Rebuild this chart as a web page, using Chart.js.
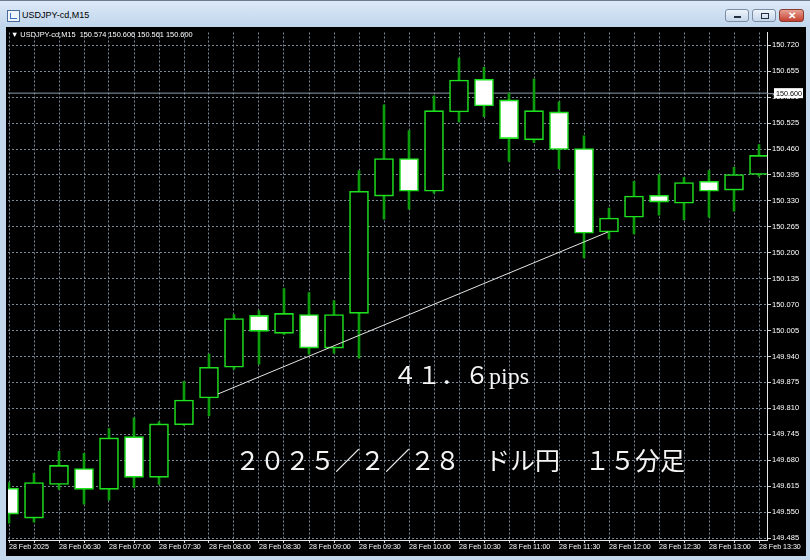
<!DOCTYPE html>
<html>
<head>
<meta charset="utf-8">
<script src="https://cdn.jsdelivr.net/npm/chart.js@4.4.1/dist/chart.umd.min.js"></script>
<style>
  body { margin: 0; width: 810px; height: 560px; overflow: hidden; background: #c3d7ed; font-family: "Liberation Sans", sans-serif; }
  #titlebar { position: absolute; left: 0; top: 0; width: 810px; height: 27px;
    background: linear-gradient(#dce9f7, #c0d5ec); border-top: 1px solid #6d7d90; box-sizing: border-box; }
  #title { position: absolute; left: 22px; top: 9px; font-size: 9px; color: #000; }
  #icon { position: absolute; left: 7px; top: 9px; width: 11px; height: 10px; border: 1px solid #4a6a9a; background: #eef4fb; }
  #icon:after { content: ""; position: absolute; left: 2px; top: 2px; width: 6px; height: 5px; border-left: 1px solid #3a6fc0; border-bottom: 1px solid #3a6fc0; }
  .btn { position: absolute; top: 8px; height: 13px; border: 1px solid #7c8ea6; border-radius: 3px; box-sizing: border-box;
    background: linear-gradient(#eef4fb, #c6d6ea); }
  #bmin { left: 725px; width: 24px; }
  #bmax { left: 752px; width: 24px; }
  #bclose { left: 779px; width: 25px; background: linear-gradient(#e8a093, #c4402f); border-color: #8a3a30; color: #fff; font-size: 10px; font-weight: bold; text-align: center; line-height: 11px; }
  #bmin:after { content: ""; position: absolute; left: 8px; top: 6px; width: 7px; height: 2px; background: #203040; }
  #bmax:after { content: ""; position: absolute; left: 8px; top: 3px; width: 6px; height: 4px; border: 1px solid #203040; }
  #wrap { position: absolute; left: 6px; top: 27px; width: 800px; height: 529px; background: #000; }
  #head { position: absolute; left: 11px; top: 30px; font-size: 7.4px; line-height: 10px; color: #fff; white-space: pre; }
  .note { position: absolute; color: #f4f4f4; white-space: pre; font-family: "Liberation Serif", "Noto Sans CJK JP", serif; }
  #pips { left: 393px; top: 363px; font-size: 24px; line-height: 26px; }
  #date { left: 235px; top: 448px; font-size: 25px; line-height: 27px; }
</style>
</head>
<body>
<div id="titlebar"><div id="icon"></div><div id="title">USDJPY-cd,M15</div>
  <div class="btn" id="bmin"></div><div class="btn" id="bmax"></div><div class="btn" id="bclose">✕</div></div>
<div id="wrap"><canvas id="c" width="800" height="529"></canvas></div>
<div id="head">▼ USDJPY-cd,M15  150.574 150.606 150.561 150.600</div>
<div class="note" id="pips">４１．６pips</div>
<div class="note" id="date">２０２５／２／２８　ドル円　１５分足</div>
<script>
// velas de 15 minutos, 06:00 a 13:30
const xLabels = ['28 Feb 2025', '', '28 Feb 06:30', '', '28 Feb 07:00', '', '28 Feb 07:30', '', '28 Feb 08:00', '',
  '28 Feb 08:30', '', '28 Feb 09:00', '', '28 Feb 09:30', '', '28 Feb 10:00', '', '28 Feb 10:30', '',
  '28 Feb 11:00', '', '28 Feb 11:30', '', '28 Feb 12:00', '', '28 Feb 12:30', '', '28 Feb 13:00', '', '28 Feb 13:30'];
const opens = [149.610, 149.535, 149.619, 149.659, 149.607, 149.739, 149.637, 149.769, 149.836, 149.913, 150.043,
  149.998, 150.045, 149.961, 150.048, 150.342, 150.436, 150.354, 150.553, 150.635, 150.583, 150.483, 150.553,
  150.461, 150.252, 150.289, 150.344, 150.324, 150.379, 150.357, 150.396];
const highs = [149.624, 149.647, 149.702, 149.697, 149.759, 149.786, 149.776, 149.878, 149.946, 150.045, 150.055,
  150.110, 150.100, 150.080, 150.406, 150.571, 150.506, 150.593, 150.688, 150.665, 150.600, 150.635, 150.578,
  150.493, 150.312, 150.379, 150.396, 150.389, 150.406, 150.414, 150.471];
const lows = [149.522, 149.525, 149.607, 149.570, 149.580, 149.612, 149.619, 149.767, 149.791, 149.908, 149.921,
  149.995, 149.946, 149.948, 149.936, 150.284, 150.309, 150.349, 150.528, 150.541, 150.429, 150.476, 150.411,
  150.187, 150.234, 150.247, 150.294, 150.282, 150.289, 150.304, 150.391];
const closes = [149.545, 149.624, 149.667, 149.607, 149.736, 149.637, 149.771, 149.831, 149.913, 150.035, 150.003,
  150.048, 149.961, 150.045, 150.354, 150.436, 150.354, 150.556, 150.633, 150.568, 150.486, 150.556, 150.459,
  150.249, 150.287, 150.342, 150.327, 150.376, 150.354, 150.396, 150.444];
const yTicks = [149.485, 149.550, 149.615, 149.680, 149.745, 149.810, 149.875, 149.940, 150.005, 150.070,
  150.135, 150.200, 150.265, 150.330, 150.395, 150.460, 150.525, 150.590, 150.655, 150.720];
const trendX = [8.36, 23.96];
const trendY = [149.846, 150.252];
const bidPrice = 150.600;

const lime = '#1ee01e';

const precioBox = {
  id: 'precioBox',
  afterDraw(chart) {
    const {ctx, chartArea, scales} = chart;
    const y = scales.y.getPixelForValue(bidPrice);
    ctx.save();
    ctx.strokeStyle = '#8c9aa8';
    ctx.beginPath(); ctx.moveTo(chartArea.right, y + 0.5); ctx.lineTo(chartArea.right + 8, y + 0.5); ctx.stroke();
    ctx.fillStyle = '#ffffff';
    ctx.fillRect(chartArea.right + 7, y - 5, 29, 10);
    ctx.fillStyle = '#000000';
    ctx.font = '7.2px "Liberation Sans"';
    ctx.textBaseline = 'middle';
    ctx.fillText(bidPrice.toFixed(3), chartArea.right + 9, y + 0.5);
    ctx.restore();
  }
};

Chart.defaults.font.family = 'Liberation Sans';
Chart.defaults.font.size = 7.5;
Chart.defaults.color = '#ffffff';

const grafico = new Chart(document.getElementById('c'), {
  type: 'bar',
  data: {
    datasets: [
      {
        type: 'line',
        data: [{x: -1, y: bidPrice}, {x: 32, y: bidPrice}],
        borderColor: '#8c9aa8', borderWidth: 1, pointRadius: 0, order: 4
      },
      {
        data: opens.map((o, i) => ({x: i, y: [lows[i], highs[i]]})),
        backgroundColor: '#0c9c0c', barThickness: 2, grouped: false, order: 3
      },
      {
        data: opens.map((o, i) => ({x: i, y: [o, closes[i]]})),
        backgroundColor: opens.map((o, i) => closes[i] >= o ? '#000000' : '#ffffff'),
        borderColor: lime, borderWidth: 1.6, borderSkipped: false,
        barThickness: 19, grouped: false, order: 2
      },
      {
        type: 'line',
        data: trendX.map((x, i) => ({x: x, y: trendY[i]})),
        borderColor: '#e6e6e6', borderWidth: 1, pointRadius: 0, order: 1
      }
    ]
  },
  options: {
    responsive: false,
    animation: false,
    layout: { padding: { left: 2, top: 2, right: 0, bottom: 0 } },
    plugins: { legend: { display: false }, tooltip: { enabled: false } },
    scales: {
      x: {
        type: 'linear', min: -0.04, max: 30.32, offset: false,
        grid: { color: '#7c8a97', offset: false, tickLength: 3, tickColor: '#cfd6dc' },
        border: { color: '#e8e8e8', dash: [2, 2] },
        afterBuildTicks: (s) => { s.ticks = xLabels.map((t, i) => ({value: i})); },
        afterFit: (s) => { s.height = 16; s.paddingLeft = 0; s.paddingRight = 0; },
        ticks: { autoSkip: false, maxRotation: 0, align: 'start', padding: 0, font: { size: 7.1 },
          callback: (v, i) => xLabels[i] }
      },
      y: {
        position: 'right', min: 149.480, max: 150.752,
        grid: { color: '#7c8a97', tickLength: 4, tickColor: '#cfd6dc' },
        border: { color: '#e8e8e8', dash: [2, 2] },
        afterBuildTicks: (s) => { s.ticks = yTicks.map(v => ({value: v})); },
        afterFit: (s) => { s.width = 39; },
        ticks: { padding: 1, callback: (v) => v.toFixed(3) }
      }
    }
  },
  plugins: [precioBox]
});
</script>
</body>
</html>
